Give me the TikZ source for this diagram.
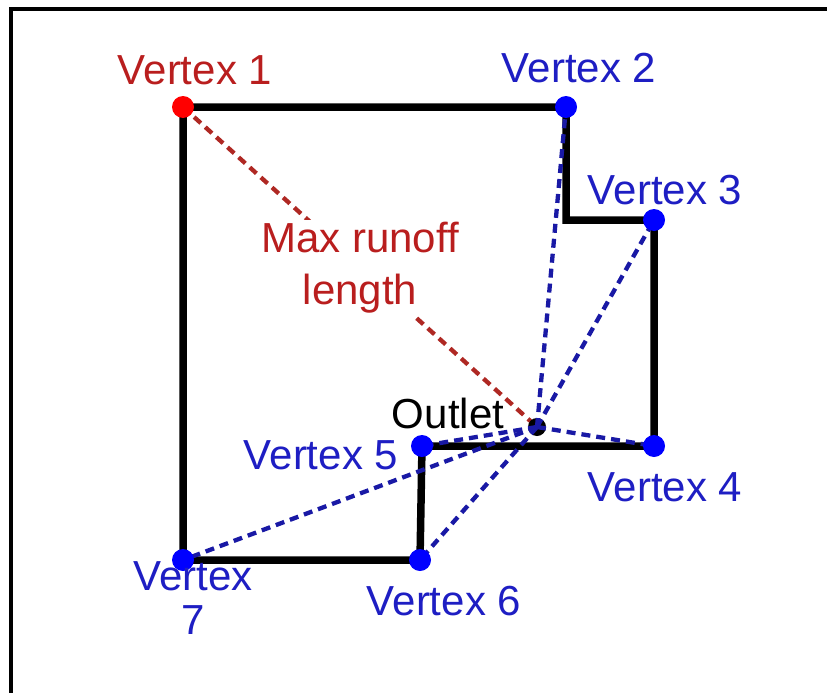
\documentclass[tikz,border=0pt]{standalone}
\usepackage{fontspec}
\setmainfont{Liberation Sans}
\definecolor{vblue}{RGB}{30,30,195}
\definecolor{dblue}{RGB}{25,25,165}
\definecolor{vred}{RGB}{185,30,30}
\definecolor{dred}{RGB}{175,40,35}
\begin{document}
\begin{tikzpicture}[x=1pt,y=-1pt,
  wall/.style={line width=7.5pt, line join=miter, black},
  bdash/.style={dblue, line width=4.3pt, dash pattern=on 9pt off 6pt},
  rdash/.style={dred, line width=4.3pt, dash pattern=on 9pt off 6pt},
  dot/.style={circle, inner sep=0pt, minimum size=22pt},
  lbl/.style={font=\fontsize{42}{48}\selectfont, inner sep=1pt},
  frameline/.style={line width=4pt, black}]
\useasboundingbox (0,0) rectangle (827,693);
% frame (only top and left edges visible)
\coordinate (f1) at (11,693);
\coordinate (f2) at (11,9);
\coordinate (f3) at (827,9);
\draw[frameline] (f1) -- (f2) -- (f3);
% corner points
\coordinate (v1) at (183,107);
\coordinate (v2) at (566,107);
\coordinate (c23) at (566,220);
\coordinate (v3) at (654,220);
\coordinate (v4) at (654,446);
\coordinate (v5) at (422,446);
\coordinate (v6) at (420,560);
\coordinate (v7) at (183,560);
\coordinate (out) at (537,427);
% boundary
\draw[wall] (v1) -- (v2) -- (c23) -- (v3) -- (v4) -- (v5) -- (v6) -- (v7) -- cycle;
% max runoff line with label
\draw[rdash] (v1) -- (out);
\node[lbl, text=vred, fill=white, align=center, inner sep=2pt, font=\fontsize{42}{52}\selectfont] (maxlbl) at (360,268) {Max runoff\\length};
% outlet
\node[circle, fill=black, inner sep=0pt, minimum size=18pt] (outlet) at (out) {};
% blue dashed lines
\foreach \v in {v2,v3,v4,v5,v6,v7}{\draw[bdash] (out) -- (\v);}
% vertex dots
\node[dot, fill=red] (d1) at (v1) {};
\node[dot, fill=blue] (d2) at (v2) {};
\node[dot, fill=blue] (d3) at (v3) {};
\node[dot, fill=blue] (d4) at (v4) {};
\node[dot, fill=blue] (d5) at (v5) {};
\node[dot, fill=blue] (d6) at (v6) {};
\node[dot, fill=blue] (d7) at (v7) {};
% labels
\node[lbl, text=vred] (l1) at (195,70) {Vertex 1};
\node[lbl, text=vblue] (l2) at (579,68) {Vertex 2};
\node[lbl, text=vblue] (l3) at (665,190) {Vertex 3};
\node[lbl, text=vblue] (l4) at (665,487) {Vertex 4};
\node[lbl, text=vblue] (l5) at (321,455) {Vertex 5};
\node[lbl, text=vblue] (l6) at (444,601) {Vertex 6};
\node[lbl, text=vblue, align=center, font=\fontsize{42}{44}\selectfont] (l7) at (193,598) {Vertex\\7};
\node[lbl, text=black] (lo) at (448,413) {Outlet};
\end{tikzpicture}
\end{document}
